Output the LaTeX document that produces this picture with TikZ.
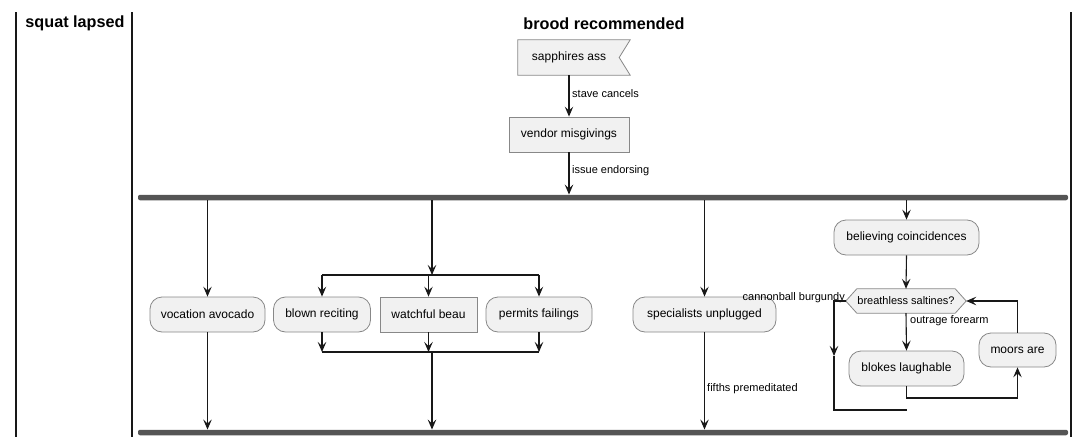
\documentclass[tikz,border=0pt]{standalone}
\usepackage{fontspec}
\setmainfont{Liberation Sans}
\usetikzlibrary{arrows.meta,backgrounds}
\definecolor{nodefill}{HTML}{F1F1F1}
\definecolor{nodeline}{HTML}{888888}
\definecolor{barcol}{HTML}{555555}
\definecolor{linecol}{HTML}{181818}
\begin{document}
\begin{tikzpicture}[x=1pt,y=-1pt]
\tikzset{
 act/.style={draw=nodeline, fill=nodefill, rounded corners=12pt, minimum height=35pt, inner sep=0pt, font=\fontsize{12}{14}\selectfont, line width=0.8pt},
 actrect/.style={act, rounded corners=0pt},
 plain/.style={inner sep=0pt, font=\fontsize{12}{14}\selectfont},
 shapeline/.style={draw=nodeline, fill=nodefill, line width=0.8pt},
 lbl/.style={inner sep=0pt, font=\fontsize{11}{13}\selectfont, anchor=west},
 bar/.style={fill=barcol, draw=none, rounded corners=2pt, minimum height=5.5pt, minimum width=930pt, inner sep=0pt},
 flow/.style={draw=linecol, line width=1.1pt},
 arr/.style={flow, -{Stealth[length=10pt,width=8.5pt,inset=4pt]}},
 lane/.style={draw=linecol, line width=1.6pt},
 lanetitle/.style={font=\bfseries\fontsize{16.2}{20}\selectfont, inner sep=0pt}
}
\useasboundingbox (0,0) rectangle (1090,447);
% lanes
\draw[lane] (16,12) -- (16,437);
\draw[lane] (132,12) -- (132,437);
\draw[lane] (1071,12) -- (1071,437);
\node[lanetitle] (t1) at (75,23) {squat lapsed};
\node[lanetitle] (t2) at (604,24) {brood recommended};
% top part
\node[plain, minimum width=112pt, minimum height=35pt] (sa) at (574,57.5) {sapphires ass\hspace*{10pt}};
\node[actrect, minimum width=120pt] (vm) at (569,134.5) {vendor misgivings};
\node[bar] (fb) at (603,197.5) {};
\node[bar] (jb) at (603,432.5) {};
% branches
\node[act, minimum width=115pt] (va) at (207.5,314.5) {vocation avocado};
\node[act, minimum width=97pt] (br) at (322,314.5) {blown reciting};
\node[actrect, minimum width=97pt] (wb) at (428.5,314.5) {watchful beau};
\node[act, minimum width=106pt] (pf) at (539,314.5) {permits failings};
\node[act, minimum width=143pt] (su) at (704.5,314.5) {specialists unplugged};
\node[act, minimum width=145pt] (bc) at (906.5,237.5) {believing coincidences};
\node[plain, minimum width=120pt, minimum height=24pt, font=\fontsize{11}{13}\selectfont] (dia) at (906,301) {breathless saltines?};
\node[act, minimum width=115pt] (bl) at (906.5,368.5) {blokes laughable};
\node[act, minimum width=77pt, minimum height=34pt] (ma) at (1017.5,350) {moors are};
\begin{scope}[on background layer]
\draw[shapeline] (sa.north west) -- (sa.north east) -- ([xshift=-11pt]sa.east) -- (sa.south east) -- (sa.south west) -- cycle;
\draw[shapeline] (dia.west) -- ([xshift=11pt]dia.north west) -- ([xshift=-11pt]dia.north east) -- (dia.east) -- ([xshift=-11pt]dia.south east) -- ([xshift=11pt]dia.south west) -- cycle;
\end{scope}
% labels
\node[lbl] (l1) at (572,94) {stave cancels};
\node[lbl] (l2) at (572,171) {issue endorsing};
\node[lbl] (l3) at (707,389) {fifths premeditated};
\node[lbl] (l4) at (910,321) {outrage forearm};
\node[lbl, anchor=base east] (l5) at (845,300) {cannonball burgundy};
% connectors
\draw[arr] (vm.north |- sa.south) -- (vm.north);
\draw[arr] (vm.south) -- (vm.south |- fb.north);
\draw[arr] (va.north |- fb.south) -- (va.north);
\draw[arr] (va.south) -- (va.south |- jb.north);
\coordinate (f2) at (432,275);
\coordinate (j2) at (432,352);
\draw[arr] (f2 |- fb.south) -- (f2);
\draw[flow] (br.north |- f2) -- (pf.north |- f2);
\draw[arr] (br.north |- f2) -- (br.north);
\draw[arr] (wb.north |- f2) -- (wb.north);
\draw[arr] (pf.north |- f2) -- (pf.north);
\draw[arr] (br.south) -- (br.south |- j2);
\draw[arr] (wb.south) -- (wb.south |- j2);
\draw[arr] (pf.south) -- (pf.south |- j2);
\draw[flow] (br.south |- j2) -- (pf.south |- j2);
\draw[arr] (j2) -- (j2 |- jb.north);
\draw[arr] (su.north |- fb.south) -- (su.north);
\draw[arr] (su.south) -- (su.south |- jb.north);
\draw[arr] (bc.north |- fb.south) -- (bc.north);
\draw[arr] (bc.south) -- (dia.north);
\draw[arr] (dia.south) -- (bl.north);
\coordinate (lp) at (1017,398);
\draw[arr] (bl.south) -- (bl.south |- lp) -| (ma.south);
\draw[arr] (ma.north) |- (dia.east);
\coordinate (ex) at (834,410);
\coordinate (exm) at (834,356);
\draw[arr] (dia.west) -| (exm);
\draw[flow] (exm) -- (ex) -- (bl.south |- ex);
\end{tikzpicture}
\end{document}
